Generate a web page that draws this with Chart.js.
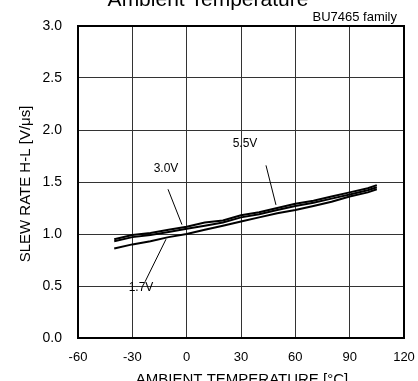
<!DOCTYPE html>
<html>
<head>
<meta charset="utf-8">
<script src="https://cdn.jsdelivr.net/npm/chart.js@4"></script>
<style>
  html, body { margin: 0; padding: 0; background: #fff; }
  #wrap { width: 418px; height: 381px; }
</style>
</head>
<body>
<div id="wrap"><canvas id="myChart" width="418" height="381"></canvas></div>
<script>
const temps = [-40, -30, -20, -10, 0, 10, 20, 30, 40, 50, 60, 70, 80, 90, 100, 105];
const sr55 = [0.95, 0.99, 1.01, 1.04, 1.07, 1.11, 1.13, 1.18, 1.21, 1.25, 1.29, 1.32, 1.36, 1.40, 1.44, 1.47];
const sr30 = [0.93, 0.97, 0.99, 1.02, 1.05, 1.08, 1.11, 1.16, 1.19, 1.23, 1.27, 1.30, 1.34, 1.38, 1.42, 1.45];
const sr17 = [0.86, 0.90, 0.93, 0.97, 1.00, 1.04, 1.08, 1.12, 1.16, 1.20, 1.23, 1.27, 1.31, 1.36, 1.40, 1.43];
const xTicks = [-60, -30, 0, 30, 60, 90, 120];
const yTicks = [0.0, 0.5, 1.0, 1.5, 2.0, 2.5, 3.0];

// callout labels: text, label pos, leader line start/end (data coords)
const callouts = [
  { text: "3.0V", at: [-11.4, 1.63], from: [-10.3, 1.43], to: [-2.6, 1.09] },
  { text: "5.5V", at: [32.2, 1.87], from: [43.8, 1.66], to: [49.3, 1.28] },
  { text: "1.7V", at: [-25.2, 0.48], from: [-23, 0.54], to: [-11.4, 0.95] },
];

const FONT = "'Liberation Sans', Arial, sans-serif";
const ctx = document.getElementById("myChart");

function pts(ys) {
  return temps.map((t, i) => ({ x: t, y: ys[i] }));
}

const lineSet = (label, ys) => ({
  label: label,
  data: pts(ys),
  borderColor: "#000",
  borderWidth: 2,
  pointRadius: 0,
  tension: 0,
  fill: false,
});

const extras = {
  id: "extras",
  afterDatasetsDraw(chart) {
    const c = chart.ctx;
    const xs = chart.scales.x;
    const ys = chart.scales.y;
    const a = chart.chartArea;
    c.save();
    // leader lines and labels
    c.strokeStyle = "#000";
    c.lineWidth = 1;
    c.fillStyle = "#000";
    c.font = "12px " + FONT;
    c.textAlign = "center";
    c.textBaseline = "middle";
    callouts.forEach((o) => {
      c.beginPath();
      c.moveTo(xs.getPixelForValue(o.from[0]), ys.getPixelForValue(o.from[1]));
      c.lineTo(xs.getPixelForValue(o.to[0]), ys.getPixelForValue(o.to[1]));
      c.stroke();
      c.fillText(o.text, xs.getPixelForValue(o.at[0]), ys.getPixelForValue(o.at[1]));
    });
    // frame
    c.lineWidth = 2;
    c.strokeRect(a.left, a.top, a.right - a.left, a.bottom - a.top);
    // titles
    c.textBaseline = "alphabetic";
    c.font = "21px " + FONT;
    c.fillText("Ambient Temperature", 208, 6);
    c.font = "13px " + FONT;
    c.textAlign = "right";
    c.fillText("BU7465 family", 397, 21);
    c.textAlign = "center";
    c.textBaseline = "top";
    c.font = "15px " + FONT;
    c.fillText("AMBIENT TEMPERATURE [\u00b0C]", 242, 372);
    c.textBaseline = "middle";
    c.translate(26, 184);
    c.rotate(-Math.PI / 2);
    c.fillText("SLEW RATE H-L [V/\u03bcs]", 0, 0);
    c.restore();
  },
};

new Chart(ctx, {
  type: "line",
  data: {
    datasets: [lineSet("5.5V", sr55), lineSet("3.0V", sr30), lineSet("1.7V", sr17)],
  },
  options: {
    responsive: false,
    animation: false,
    layout: { padding: { top: 26, right: 14, left: 0, bottom: 0 } },
    plugins: { legend: { display: false }, tooltip: { enabled: false } },
    scales: {
      x: {
        type: "linear",
        min: -60,
        max: 120,
        afterBuildTicks: (s) => { s.ticks = xTicks.map((v) => ({ value: v })); },
        afterFit: (s) => { s.height = 43; s.paddingLeft = 0; s.paddingRight = 0; },
        grid: { color: "#333", lineWidth: 1, tickLength: 0, drawTicks: false },
        border: { display: false },
        ticks: { color: "#000", font: { family: FONT, size: 13 }, padding: 12, maxRotation: 0 },
      },
      y: {
        min: 0,
        max: 3,
        afterBuildTicks: (s) => { s.ticks = yTicks.map((v) => ({ value: v })); },
        afterFit: (s) => { s.width = 78; },
        grid: { color: "#333", lineWidth: 1, tickLength: 0, drawTicks: false },
        border: { display: false },
        ticks: {
          color: "#000",
          font: { family: FONT, size: 14 },
          padding: 16,
          callback: (v) => Number(v).toFixed(1),
        },
      },
    },
  },
  plugins: [extras],
});
</script>
</body>
</html>
